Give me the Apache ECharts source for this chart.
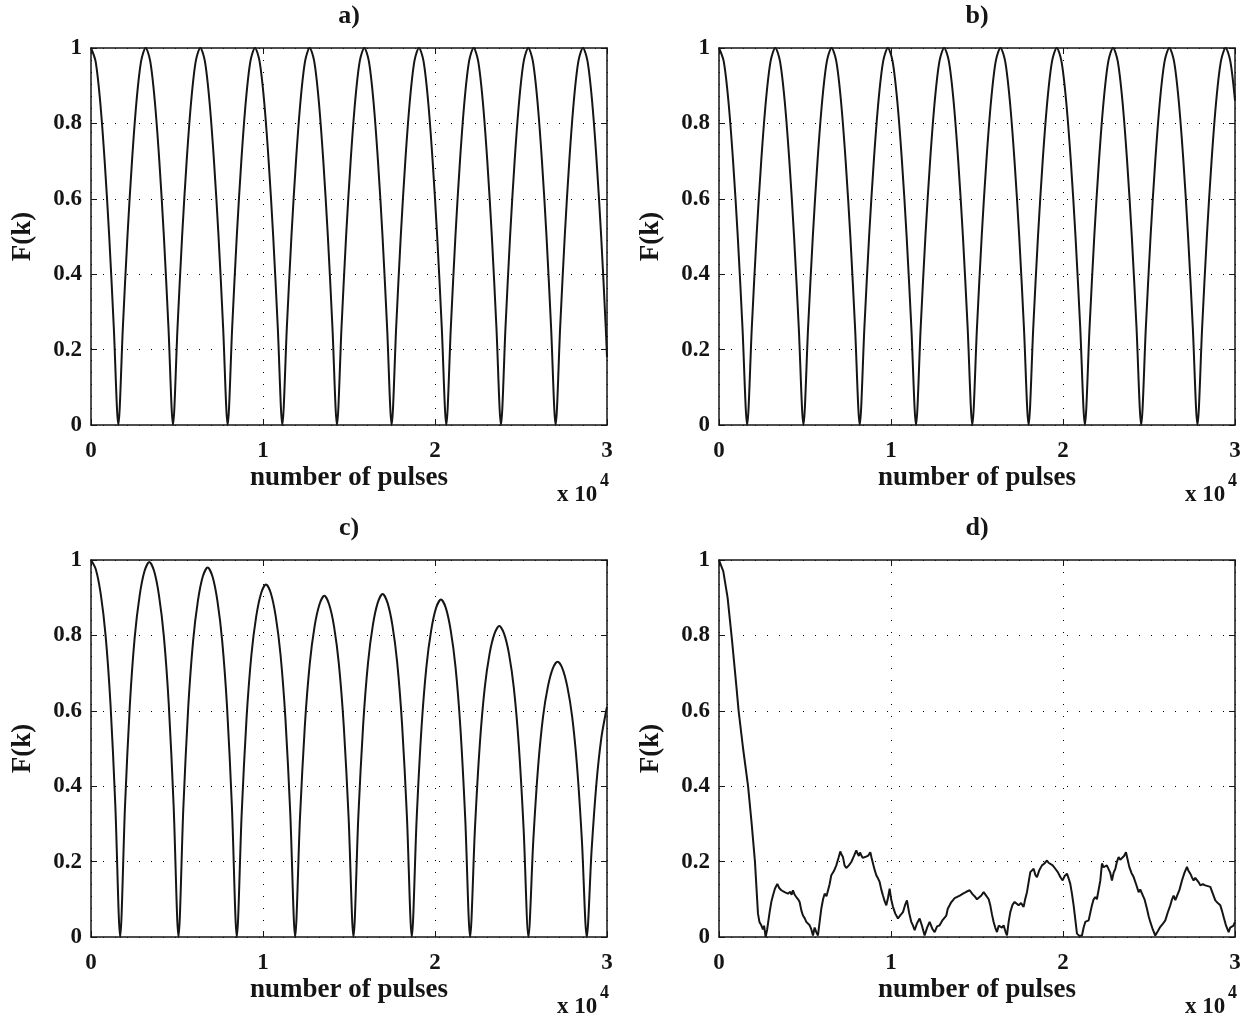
<!DOCTYPE html>
<html>
<head>
<meta charset="utf-8">
<script src="https://cdn.jsdelivr.net/npm/echarts@6/dist/echarts.min.js"></script>
<style>
html, body { margin: 0; padding: 0; background: #fff; }
#chart { width: 1247px; height: 1017px; }
</style>
</head>
<body>
<div id="chart"></div>
<script>
// panel titles and x tick labels (in units of 10^4 pulses)
var panelNames = ['a)', 'b)', 'c)', 'd)'];
var xTickLabels = ['0', '1', '2', '3'];

// a) one sample every 1/12 of a lobe (lobe ~3178 pulses)
var aStep = 3178 / 12;
var aY = [
  1, .965, .86, .7, .5, .26, 0, .26, .5, .7, .86, .965,
  1, .965, .86, .7, .5, .26, 0, .26, .5, .7, .86, .965,
  1, .965, .86, .7, .5, .26, 0, .26, .5, .7, .86, .965,
  1, .965, .86, .7, .5, .26, 0, .26, .5, .7, .86, .965,
  1, .965, .86, .7, .5, .26, 0, .26, .5, .7, .86, .965,
  1, .965, .86, .7, .5, .26, 0, .26, .5, .7, .86, .965,
  1, .965, .86, .7, .5, .26, 0, .26, .5, .7, .86, .965,
  1, .965, .86, .7, .5, .26, 0, .26, .5, .7, .86, .965,
  1, .965, .86, .7, .5, .26, 0, .26, .5, .7, .86, .965,
  1, .965, .86, .7, .5, .26, .18
];

// b) lobe ~3273 pulses
var bStep = 30000 / 110;
var bY = [
  1, .965, .86, .7, .5, .26, 0, .26, .5, .7, .86, .965,
  1, .965, .86, .7, .5, .26, 0, .26, .5, .7, .86, .965,
  1, .965, .86, .7, .5, .26, 0, .26, .5, .7, .86, .965,
  1, .965, .86, .7, .5, .26, 0, .26, .5, .7, .86, .965,
  1, .965, .86, .7, .5, .26, 0, .26, .5, .7, .86, .965,
  1, .965, .86, .7, .5, .26, 0, .26, .5, .7, .86, .965,
  1, .965, .86, .7, .5, .26, 0, .26, .5, .7, .86, .965,
  1, .965, .86, .7, .5, .26, 0, .26, .5, .7, .86, .965,
  1, .965, .86, .7, .5, .26, 0, .26, .5, .7, .86, .965,
  1, .965, .86
];

// c) lobe ~3391 pulses, peaks slowly decaying
var cStep = 3391 / 12;
var cY = [
  1, .975, .91, .8, .62, .35, 0,
  .348, .617, .796, .905, .97, .995, .97, .905, .796, .617, .348, 0,
  .343, .608, .784, .892, .956, .98, .956, .892, .784, .608, .343, 0,
  .327, .58, .748, .851, .912, .935, .912, .851, .748, .58, .327, 0,
  .317, .561, .724, .824, .882, .905, .882, .824, .724, .561, .317, 0,
  .319, .564, .728, .828, .887, .91, .887, .828, .728, .564, .319, 0,
  .313, .555, .716, .814, .873, .895, .873, .814, .716, .555, .313, 0,
  .289, .512, .66, .751, .804, .825, .804, .751, .66, .512, .289, 0,
  .256, .453, .584, .664, .712, .73, .712, .664, .584, .453, .256, 0,
  .231, .409, .528, .601, .61
];

// d) [pulses, F]
var dPoints = [
  [0, 1], [250, .97], [500, .9], [750, .79], [1000, .67], [1140, .6], [1400, .5], [1690, .4],
  [1900, .3], [2090, .2], [2266, .062], [2350, .04], [2459, .031], [2556, .02], [2620, .03],
  [2711, 0], [2800, .02], [2944, .066], [3050, .095], [3138, .11], [3250, .128], [3390, .141],
  [3500, .13], [3560, .134], [3622, .124], [3720, .122], [3816, .119], [3900, .124], [4010, .115],
  [4150, .12], [4220, .112], [4300, .124], [4400, .112], [4494, .106], [4600, .1], [4688, .093],
  [4790, .07], [4882, .057], [4980, .05], [5076, .04], [5170, .045], [5270, .031], [5370, .02],
  [5463, .004], [5560, .025], [5657, .013], [5754, .004], [5850, .04], [5948, .075], [6050, .1],
  [6142, .115], [6250, .108], [6336, .11], [6430, .14], [6529, .164], [6680, .175], [6820, .19],
  [6950, .21], [7052, .227], [7130, .218], [7207, .212], [7300, .19], [7401, .183], [7550, .19],
  [7692, .199], [7850, .215], [7983, .23], [8050, .222], [8130, .215], [8200, .224], [8273, .217],
  [8350, .21], [8420, .205], [8490, .212], [8564, .208], [8680, .216], [8797, .225], [8870, .21],
  [8952, .195], [9050, .178], [9145, .164], [9250, .155], [9339, .146], [9440, .125], [9533, .11],
  [9630, .095], [9727, .084], [9830, .105], [9921, .128], [10010, .1], [10114, .08], [10250, .062],
  [10405, .049], [10550, .058], [10696, .066], [10820, .085], [10928, .097], [11050, .065],
  [11180, .04], [11280, .03], [11374, .018], [11500, .035], [11665, .049], [11800, .03],
  [11955, .004], [12100, .025], [12246, .04], [12400, .022], [12537, .013], [12680, .028],
  [12828, .031], [13000, .045], [13215, .057], [13300, .075], [13409, .084], [13500, .092],
  [13603, .097], [13700, .103], [13797, .106], [14000, .11], [14184, .115], [14380, .12],
  [14572, .124], [14750, .113], [14901, .106], [15000, .1], [15095, .097], [15250, .11],
  [15386, .119], [15480, .113], [15579, .115], [15680, .1], [15773, .084], [15870, .06],
  [15967, .04], [16060, .025], [16161, .013], [16260, .03], [16355, .035], [16450, .025],
  [16548, .031], [16650, .015], [16742, .004], [16840, .04], [16936, .066], [17060, .085],
  [17188, .093], [17300, .088], [17420, .084], [17560, .09], [17711, .08], [17800, .1],
  [17905, .119], [18000, .145], [18099, .172], [18200, .176], [18293, .181], [18390, .165],
  [18486, .159], [18630, .178], [18777, .19], [18920, .195], [19068, .203], [19160, .197],
  [19262, .199], [19400, .19], [19552, .181], [19700, .172], [19843, .159], [19979, .15],
  [20100, .162], [20231, .168], [20330, .155], [20424, .141], [20520, .115], [20618, .084],
  [20720, .045], [20812, .009], [20950, .003], [21102, .004], [21200, .025], [21297, .04],
  [21400, .038], [21490, .044], [21590, .065], [21684, .084], [21780, .1], [21878, .106],
  [21970, .1], [22072, .097], [22170, .15], [22265, .195], [22360, .185], [22459, .181],
  [22550, .19], [22653, .195], [22750, .17], [22847, .15], [22940, .17], [23041, .181],
  [23140, .2], [23234, .212], [23330, .205], [23428, .203], [23550, .215], [23661, .225],
  [23760, .205], [23854, .186], [23980, .17], [24107, .159], [24250, .14], [24397, .119],
  [24490, .126], [24591, .124], [24740, .1], [24882, .075], [24980, .055], [25075, .04],
  [25220, .02], [25366, .004], [25510, .015], [25657, .027], [25800, .035], [25948, .044],
  [26090, .065], [26238, .084], [26340, .1], [26432, .11], [26530, .098], [26626, .093],
  [26770, .125], [26917, .15], [27060, .17], [27207, .186], [27300, .175], [27401, .168],
  [27500, .158], [27595, .15], [27690, .157], [27789, .159], [27890, .145], [27983, .137],
  [28130, .14], [28273, .137], [28420, .135], [28564, .133], [28710, .115], [28855, .097],
  [29000, .09], [29145, .084], [29240, .07], [29339, .053], [29480, .03], [29630, .013],
  [29720, .025], [29824, .022], [29910, .03], [30000, .04]
];

function sampled(ys, step) {
  return ys.map(function (v, i) { return [Math.min(i * step, 30000), v]; });
}

var seriesData = [sampled(aY, aStep), sampled(bY, bStep), sampled(cY, cStep), dPoints];

var boxes = [[91, 48], [719, 48], [91, 560], [719, 560]];
var W = 516, H = 377;
var ink = '#151515';
var serif = 'Liberation Serif';

var grid = [], xAxis = [], yAxis = [], series = [], title = [], graphic = [];

boxes.forEach(function (b, g) {
  var frame = { show: true, onZero: false, lineStyle: { color: ink, width: 1.5 } };
  var tick = { show: true, inside: true, length: 6, lineStyle: { color: ink, width: 1 } };
  var dots = { show: true, lineStyle: { color: '#000', width: 1, type: [1, 11] } };
  var txt = { fontFamily: serif, fontWeight: 'bold', color: ink };

  grid.push({ left: b[0], top: b[1], width: W, height: H });

  xAxis.push({
    type: 'value', gridIndex: g, position: 'bottom', min: 0, max: 30000, interval: 10000,
    axisLine: frame, axisTick: tick, splitLine: dots,
    axisLabel: Object.assign({ fontSize: 23, margin: 15, formatter: function (v) { return xTickLabels[v / 10000]; } }, txt),
    name: 'number of pulses', nameLocation: 'middle', nameGap: 40,
    nameTextStyle: Object.assign({ fontSize: 27 }, txt)
  });
  xAxis.push({
    type: 'value', gridIndex: g, position: 'top', min: 0, max: 30000, interval: 10000,
    axisLine: frame, axisTick: tick, splitLine: { show: false }, axisLabel: { show: false }
  });
  yAxis.push({
    type: 'value', gridIndex: g, position: 'left', min: 0, max: 1, interval: 0.2,
    axisLine: frame, axisTick: tick, splitLine: dots,
    axisLabel: Object.assign({ fontSize: 23, margin: 9 }, txt),
    name: 'F(k)', nameLocation: 'middle', nameGap: 54, nameRotate: 90,
    nameTextStyle: Object.assign({ fontSize: 27 }, txt)
  });
  yAxis.push({
    type: 'value', gridIndex: g, position: 'right', min: 0, max: 1, interval: 0.2,
    axisLine: frame, axisTick: tick, splitLine: { show: false }, axisLabel: { show: false }
  });

  series.push({
    type: 'line', xAxisIndex: 2 * g, yAxisIndex: 2 * g,
    data: seriesData[g], showSymbol: false, symbol: 'none',
    smooth: g < 3 ? 0.3 : false,
    lineStyle: { color: ink, width: 2 }, animation: false
  });

  title.push({
    text: panelNames[g], left: b[0] + W / 2, top: b[1] - 45, textAlign: 'center', padding: 0,
    textStyle: Object.assign({ fontSize: 26 }, txt)
  });

  var right = b[0] + W, bottom = b[1] + H;
  graphic.push({
    type: 'text', x: right - 50, y: bottom + 70,
    style: { text: 'x 10', font: 'bold 23px "Liberation Serif"', fill: ink, verticalAlign: 'middle' }
  });
  graphic.push({
    type: 'text', x: right - 7, y: bottom + 56,
    style: { text: '4', font: 'bold 18px "Liberation Serif"', fill: ink, verticalAlign: 'middle' }
  });
});

var chart = echarts.init(document.getElementById('chart'));
chart.setOption({
  backgroundColor: '#fff',
  animation: false,
  title: title,
  grid: grid,
  xAxis: xAxis,
  yAxis: yAxis,
  series: series,
  graphic: graphic
});
</script>
</body>
</html>
